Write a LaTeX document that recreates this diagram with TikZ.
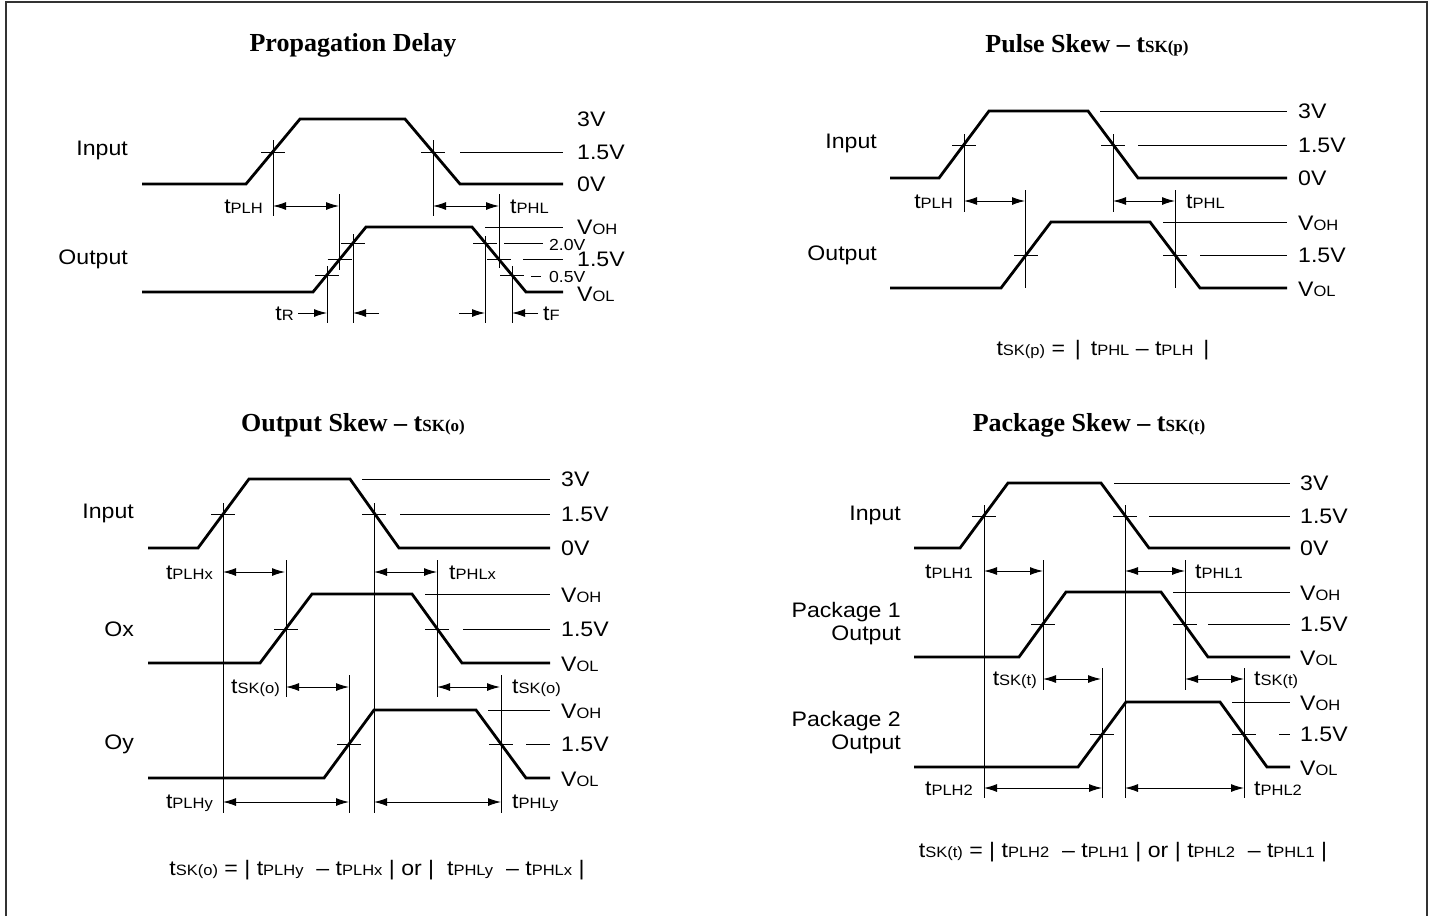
\documentclass[tikz,border=0pt]{standalone}
\usepackage{fontspec}
\setmainfont{Liberation Serif}
\newfontfamily\arialf[FakeStretch=1.1]{Liberation Sans}
\usetikzlibrary{arrows.meta}
\newcommand{\lsub}[1]{{\fontsize{15}{15}\selectfont #1}}
\newcommand{\tsub}[1]{{\fontsize{17}{17}\selectfont\bfseries #1}}
\newcommand{\tk}[2]{\draw[refl] (#1-12,#2) -- (#1+12,#2);}
\begin{document}
\begin{tikzpicture}[x=1pt,y=-1pt,
  wave/.style={line width=2.8pt, line join=miter},
  refl/.style={line width=1pt},
  dimar/.style={line width=1pt, {Latex[length=13pt,width=8pt]}-{Latex[length=13pt,width=8pt]}},
  onear/.style={line width=1pt, -{Latex[length=13pt,width=8pt]}},
  lbl/.style={font=\arialf\fontsize{21}{23}\selectfont, inner sep=0pt},
  sml/.style={font=\arialf\fontsize{16}{18}\selectfont, inner sep=0pt},
  ttl/.style={font=\bfseries\fontsize{26}{28}\selectfont, inner sep=0pt}]
\useasboundingbox (0,0) rectangle (1432,916);
\draw[line width=2.5pt, draw=black!80] (6,916) -- (6,2) -- (1427,2) -- (1427,916);

% ================= Panel 1: Propagation Delay =================
\node[ttl] (t1) at (353,45) {Propagation Delay};
\node[lbl, anchor=east] (p1in) at (128,150) {Input};
\node[lbl, anchor=east] (p1out) at (128,259) {Output};
\draw[wave] (142,184) -- (246,184) -- (300,119) -- (405,119) -- (460,184) -- (563,184);
\tk{273}{152} \tk{433}{152}
\draw[refl] (273,140) -- (273,216);
\draw[refl] (433,140) -- (433,216);
\draw[refl] (460,152) -- (563,152);
\node[lbl, anchor=west] at (577,119) {3V};
\node[lbl, anchor=west] at (577,152) {1.5V};
\node[lbl, anchor=west] at (577,184) {0V};
\draw[dimar] (273,206) -- (339,206);
\draw[dimar] (433,206) -- (499,206);
\node[lbl, anchor=east] at (263,207) {t\lsub{PLH}};
\node[lbl, anchor=west] at (510,207) {t\lsub{PHL}};
\draw[wave] (142,292) -- (313,292) -- (366,227) -- (472,227) -- (526,292) -- (563,292);
\tk{327}{275} \tk{339.5}{259.5} \tk{353}{243}
\tk{485}{243} \tk{499}{259.5} \tk{512}{275}
\draw[refl] (327,266) -- (327,323);
\draw[refl] (339,194) -- (339,270);
\draw[refl] (353,234) -- (353,323);
\draw[refl] (485,236) -- (485,323);
\draw[refl] (499,194) -- (499,268);
\draw[refl] (512,266) -- (512,323);
\draw[refl] (485,227) -- (563,227);
\draw[refl] (504,243) -- (543,243);
\draw[refl] (523,259.5) -- (563,259.5);
\draw[refl] (531,276) -- (541,276);
\node[lbl, anchor=west] at (577,227) {V\lsub{OH}};
\node[sml, anchor=west] at (549,245) {2.0V};
\node[lbl, anchor=west] at (577,259) {1.5V};
\node[sml, anchor=west] at (549,277) {0.5V};
\node[lbl, anchor=west] at (577,294) {V\lsub{OL}};
\draw[onear] (298,313) -- (327,313);
\draw[onear] (379,313) -- (353,313);
\draw[onear] (459,313) -- (485,313);
\draw[onear] (538,313) -- (512,313);
\node[lbl, anchor=east] at (294,314) {t\lsub{R}};
\node[lbl, anchor=west] at (543,314) {t\lsub{F}};

% ================= Panel 2: Pulse Skew =================
\node[ttl] (t2) at (1087,45) {Pulse Skew -- t\tsub{SK(p)}};
\node[lbl, anchor=east] at (877,143) {Input};
\node[lbl, anchor=east] at (877,255) {Output};
\draw[wave] (890,178) -- (939,178) -- (989,111) -- (1088,111) -- (1138,178) -- (1287,178);
\tk{964}{145} \tk{1113}{145}
\draw[refl] (964,134) -- (964,212);
\draw[refl] (1113,134) -- (1113,212);
\draw[refl] (1100,111) -- (1287,111);
\draw[refl] (1138,145) -- (1287,145);
\node[lbl, anchor=west] at (1298,111) {3V};
\node[lbl, anchor=west] at (1298,145) {1.5V};
\node[lbl, anchor=west] at (1298,178) {0V};
\draw[dimar] (964,201) -- (1025,201);
\draw[dimar] (1113,201) -- (1175,201);
\node[lbl, anchor=east] at (953,202) {t\lsub{PLH}};
\node[lbl, anchor=west] at (1186,202) {t\lsub{PHL}};
\draw[wave] (890,288) -- (1001,288) -- (1051,222) -- (1150,222) -- (1200,288) -- (1287,288);
\tk{1026}{255} \tk{1175}{255}
\draw[refl] (1025,190) -- (1025,288);
\draw[refl] (1175,190) -- (1175,288);
\draw[refl] (1163,222) -- (1287,222);
\draw[refl] (1200,255) -- (1287,255);
\node[lbl, anchor=west] at (1298,223) {V\lsub{OH}};
\node[lbl, anchor=west] at (1298,255) {1.5V};
\node[lbl, anchor=west] at (1298,289) {V\lsub{OL}};
\node[lbl] at (1103,350) {t\lsub{SK(p)} = \,|\, t\lsub{PHL} – t\lsub{PLH} \,|};

% ================= Panel 3: Output Skew =================
\node[ttl] (t3) at (353,425) {Output Skew -- t\tsub{SK(o)}};
\node[lbl, anchor=east] at (134,513) {Input};
\node[lbl, anchor=east] at (134,629) {Ox};
\node[lbl, anchor=east] at (134,744) {Oy};
\draw[wave] (148,548) -- (198,548) -- (249,479) -- (350,479) -- (399,548) -- (550,548);
\tk{223}{514} \tk{374}{514}
\draw[refl] (223,503) -- (223,813);
\draw[refl] (374,503) -- (374,813);
\draw[refl] (362,479) -- (550,479);
\draw[refl] (400,514) -- (550,514);
\node[lbl, anchor=west] at (561,479) {3V};
\node[lbl, anchor=west] at (561,514) {1.5V};
\node[lbl, anchor=west] at (561,548) {0V};
\draw[dimar] (223,572) -- (285,572);
\draw[dimar] (374,572) -- (437,572);
\node[lbl, anchor=east] at (213,573) {t\lsub{PLHx}};
\node[lbl, anchor=west] at (449,573) {t\lsub{PHLx}};
\draw[wave] (148,663) -- (260,663) -- (312,594) -- (412,594) -- (462,663) -- (550,663);
\tk{286}{629} \tk{437}{629}
\draw[refl] (286,560) -- (286,697);
\draw[refl] (437,560) -- (437,697);
\draw[refl] (425,594) -- (550,594);
\draw[refl] (463,629) -- (550,629);
\node[lbl, anchor=west] at (561,595) {V\lsub{OH}};
\node[lbl, anchor=west] at (561,629) {1.5V};
\node[lbl, anchor=west] at (561,664) {V\lsub{OL}};
\draw[dimar] (286,687) -- (349,687);
\draw[dimar] (437,687) -- (500,687);
\node[lbl, anchor=east] at (280,688) {t\lsub{SK(o)}};
\node[lbl, anchor=west] at (512,688) {t\lsub{SK(o)}};
\draw[wave] (148,778) -- (324,778) -- (374,710) -- (476,710) -- (526,778) -- (550,778);
\tk{349}{744} \tk{501}{744}
\draw[refl] (349,675) -- (349,813);
\draw[refl] (501,675) -- (501,813);
\draw[refl] (488,710) -- (550,710);
\draw[refl] (526,744) -- (550,744);
\node[lbl, anchor=west] at (561,711) {V\lsub{OH}};
\node[lbl, anchor=west] at (561,744) {1.5V};
\node[lbl, anchor=west] at (561,779) {V\lsub{OL}};
\draw[dimar] (223,802) -- (349,802);
\draw[dimar] (374,802) -- (501,802);
\node[lbl, anchor=east] at (213,803) {t\lsub{PLHy}};
\node[lbl, anchor=west] at (512,803) {t\lsub{PHLy}};
\node[lbl] at (377,870) {t\lsub{SK(o)} = | t\lsub{PLHy} \ – t\lsub{PLHx} | or | \ t\lsub{PHLy} \ – t\lsub{PHLx} |};

% ================= Panel 4: Package Skew =================
\node[ttl] (t4) at (1089,425) {Package Skew -- t\tsub{SK(t)}};
\node[lbl, anchor=east] at (901,515) {Input};
\node[lbl, anchor=east, align=right] at (901,624) {Package 1\\Output};
\node[lbl, anchor=east, align=right] at (901,733) {Package 2\\Output};
\draw[wave] (914,548) -- (960,548) -- (1008,483) -- (1101,483) -- (1149,548) -- (1290,548);
\tk{984}{516} \tk{1125}{516}
\draw[refl] (984,505) -- (984,798);
\draw[refl] (1125,505) -- (1125,798);
\draw[refl] (1114,483) -- (1290,483);
\draw[refl] (1149,516) -- (1290,516);
\node[lbl, anchor=west] at (1300,483) {3V};
\node[lbl, anchor=west] at (1300,516) {1.5V};
\node[lbl, anchor=west] at (1300,548) {0V};
\draw[dimar] (984,571) -- (1043,571);
\draw[dimar] (1125,571) -- (1185,571);
\node[lbl, anchor=east] at (973,572) {t\lsub{PLH1}};
\node[lbl, anchor=west] at (1195,572) {t\lsub{PHL1}};
\draw[wave] (914,657) -- (1019,657) -- (1066,592) -- (1161,592) -- (1208,657) -- (1290,657);
\tk{1043}{624} \tk{1185}{624}
\draw[refl] (1043,560) -- (1043,690);
\draw[refl] (1185,560) -- (1185,690);
\draw[refl] (1173,592) -- (1290,592);
\draw[refl] (1208,624) -- (1290,624);
\node[lbl, anchor=west] at (1300,593) {V\lsub{OH}};
\node[lbl, anchor=west] at (1300,624) {1.5V};
\node[lbl, anchor=west] at (1300,658) {V\lsub{OL}};
\draw[dimar] (1043,679) -- (1101,679);
\draw[dimar] (1185,679) -- (1244,679);
\node[lbl, anchor=east] at (1037,680) {t\lsub{SK(t)}};
\node[lbl, anchor=west] at (1254,680) {t\lsub{SK(t)}};
\draw[wave] (914,767) -- (1078,767) -- (1126,702) -- (1220,702) -- (1267,767) -- (1290,767);
\tk{1102}{734} \tk{1244}{734}
\draw[refl] (1102,668) -- (1102,798);
\draw[refl] (1244,668) -- (1244,798);
\draw[refl] (1232,702) -- (1290,702);
\draw[refl] (1279,734) -- (1290,734);
\node[lbl, anchor=west] at (1300,703) {V\lsub{OH}};
\node[lbl, anchor=west] at (1300,734) {1.5V};
\node[lbl, anchor=west] at (1300,768) {V\lsub{OL}};
\draw[dimar] (984,788) -- (1102,788);
\draw[dimar] (1125,788) -- (1244,788);
\node[lbl, anchor=east] at (973,789) {t\lsub{PLH2}};
\node[lbl, anchor=west] at (1254,789) {t\lsub{PHL2}};
\node[lbl] at (1123,852) {t\lsub{SK(t)} = | t\lsub{PLH2} \ – t\lsub{PLH1} | or | t\lsub{PHL2} \ – t\lsub{PHL1} |};
\end{tikzpicture}
\end{document}
